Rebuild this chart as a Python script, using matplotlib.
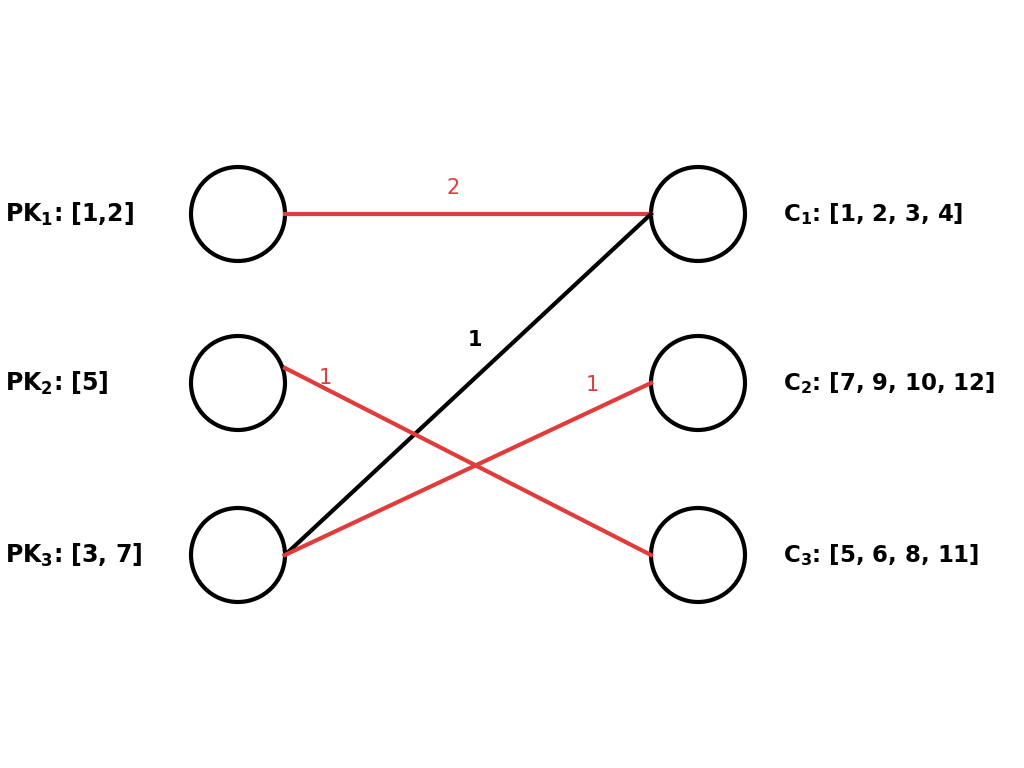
import matplotlib.pyplot as plt
from matplotlib.patches import Circle

plt.rcParams['mathtext.default'] = 'regular'

# node labels
left_labels = ['PK$_1$: [1,2]', 'PK$_2$: [5]', 'PK$_3$: [3, 7]']
right_labels = ['C$_1$: [1, 2, 3, 4]', 'C$_2$: [7, 9, 10, 12]', 'C$_3$: [5, 6, 8, 11]']
# edges: (left index, right index, weight, colour)
edges = [(0, 0, '2', '#e03c3c'),
         (2, 0, '1', 'black'),
         (1, 2, '1', '#e03c3c'),
         (2, 1, '1', '#e03c3c')]
# where each weight label sits
label_pos = [(453, 188), (475, 340), (325, 378), (592, 385)]

row_y = [214, 383, 555]
left_x, right_x, r = 238, 698, 47

fig = plt.figure(figsize=(10.24, 7.68), dpi=100)
ax = fig.add_axes([0, 0, 1, 1])
ax.set_xlim(0, 1024)
ax.set_ylim(768, 0)
ax.axis('off')

for y in row_y:
    ax.add_patch(Circle((left_x, y), r, fill=False, lw=3, ec='black'))
    ax.add_patch(Circle((right_x, y), r, fill=False, lw=3, ec='black'))

for (i, j, w, c), (tx, ty) in zip(edges, label_pos):
    y0 = row_y[i] if i != 1 else 368
    ax.plot([left_x + r, right_x - r], [y0, row_y[j]], color=c, lw=3)
    ax.text(tx, ty, w, color=c, fontsize=15, ha='center', va='center',
            fontweight='bold' if c == 'black' else 'normal')

for y, t in zip(row_y, left_labels):
    ax.text(5, y, t, fontsize=17, fontweight='bold', va='center', ha='left')
for y, t in zip(row_y, right_labels):
    ax.text(783, y, t, fontsize=16.5, fontweight='bold', va='center', ha='left')

fig.savefig('out.png', dpi=100)
